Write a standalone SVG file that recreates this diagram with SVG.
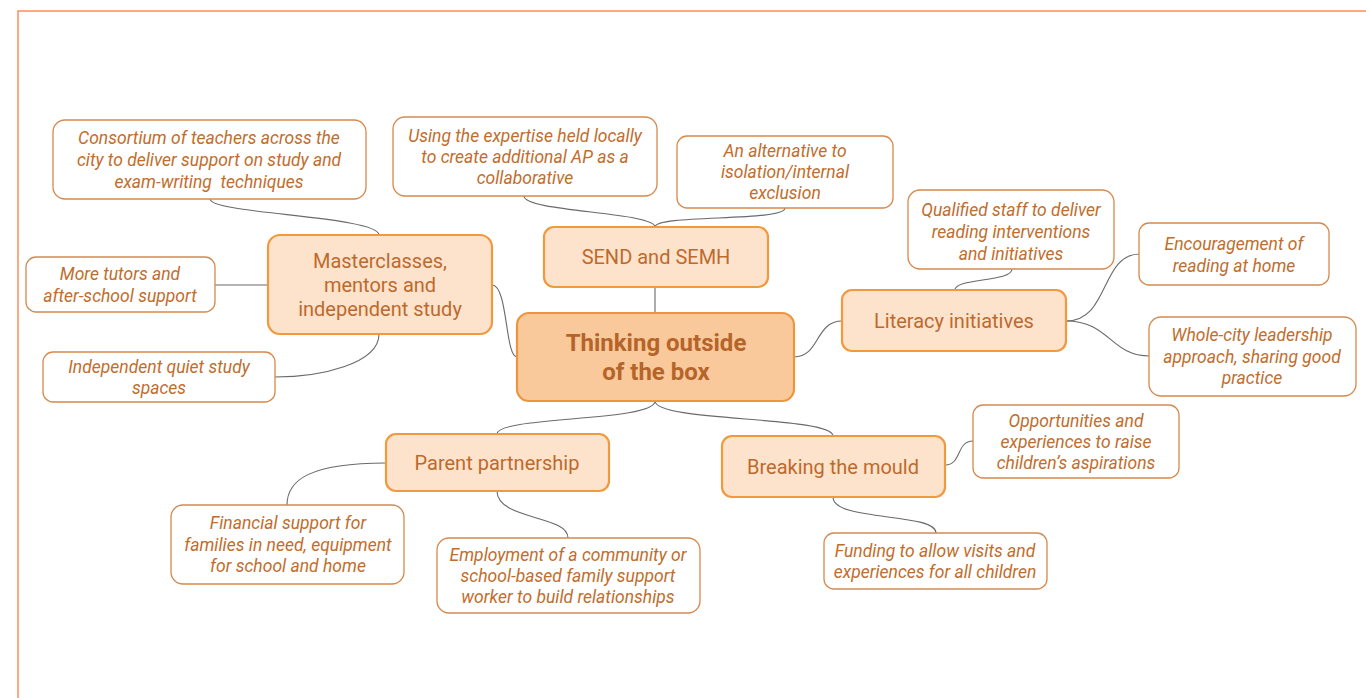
<svg xmlns="http://www.w3.org/2000/svg" width="1366" height="698" viewBox="0 0 1366 698">
<style>
.frame{fill:none;stroke:#ff8c5c;stroke-width:1.5}
.leaf rect{fill:#ffffff;stroke:#d8894c;stroke-width:1.3}
.leaf text{font-family:Roboto,"Open Sans",sans-serif;font-style:italic;font-size:17.5px;fill:#c26d2c;text-anchor:middle}
.branch rect{fill:#fde3cc;stroke:#f0993e;stroke-width:2.2}
.branch text{font-family:Roboto,"Open Sans",sans-serif;font-size:20px;fill:#bd6a2c;text-anchor:middle}
.core rect{fill:#f9c99b;stroke:#eb963a;stroke-width:2.2}
.core text{font-family:Roboto,"Open Sans",sans-serif;font-weight:bold;font-size:24px;fill:#b5642a;text-anchor:middle}
.conn path{fill:none;stroke:#6a6a6a;stroke-width:1.1}
</style>
<rect x="0" y="0" width="1366" height="698" fill="#ffffff"/>
<path class="frame" d="M18,698 V11 H1366"/>

<g class="conn" id="connectors">
<path d="M210,199 C210,214 379,216 379,235"/>
<path d="M215,285 H268"/>
<path d="M379,334 C379,364 320,377 275,377"/>
<path d="M492,285 C508,285 505,357 517,357"/>
<path d="M524,196 C524,212 655,212 655,227"/>
<path d="M785,208 C785,222 655,214 655,227"/>
<path d="M655,287 V313"/>
<path d="M794,357 C820,357 815,321 842,321"/>
<path d="M1012,269 C1012,282 955,278 955,290"/>
<path d="M1066,321 C1110,321 1100,254 1140,254"/>
<path d="M1066,321 C1110,321 1110,356 1150,356"/>
<path d="M655,401 C655,422 497,416 497,434"/>
<path d="M655,401 C655,422 833,416 833,436"/>
<path d="M386,463 C310,463 287,480 287,505"/>
<path d="M497,491 C497,520 568,515 568,538"/>
<path d="M945,465 C962,465 956,441 973,441"/>
<path d="M833,497 C833,522 936,512 936,533"/>
</g>

<g class="core" id="thinking-outside">
<rect x="517" y="313" width="277" height="88" rx="12"/>
<text x="656" y="351">Thinking outside</text>
<text x="656" y="380">of the box</text>
</g>

<g class="branch" id="masterclasses">
<rect x="268" y="235" width="224" height="99" rx="12"/>
<text x="380" y="268">Masterclasses,</text>
<text x="380" y="292">mentors and</text>
<text x="380" y="316">independent study</text>
</g>
<g class="branch" id="send">
<rect x="544" y="227" width="224" height="60" rx="10"/>
<text x="656" y="264">SEND and SEMH</text>
</g>
<g class="branch" id="literacy">
<rect x="842" y="290" width="224" height="61" rx="10"/>
<text x="954" y="328">Literacy initiatives</text>
</g>
<g class="branch" id="parent">
<rect x="386" y="434" width="223" height="57" rx="10"/>
<text x="497" y="470">Parent partnership</text>
</g>
<g class="branch" id="breaking">
<rect x="722" y="436" width="223" height="61" rx="10"/>
<text x="833" y="474">Breaking the mould</text>
</g>

<g class="leaf" id="consortium">
<rect x="53" y="120" width="313" height="79" rx="12"/>
<text x="209" y="144">Consortium of teachers across the</text>
<text x="209" y="166">city to deliver support on study and</text>
<text x="209" y="188" xml:space="preserve">exam-writing  techniques</text>
</g>
<g class="leaf" id="tutors">
<rect x="26" y="257" width="189" height="55" rx="10"/>
<text x="120" y="280">More tutors and</text>
<text x="120" y="302">after-school support</text>
</g>
<g class="leaf" id="quiet-study">
<rect x="43" y="352" width="232" height="50" rx="10"/>
<text x="159" y="373">Independent quiet study</text>
<text x="159" y="394">spaces</text>
</g>
<g class="leaf" id="expertise">
<rect x="393" y="117" width="264" height="79" rx="12"/>
<text x="525" y="142">Using the expertise held locally</text>
<text x="525" y="163">to create additional AP as a</text>
<text x="525" y="184">collaborative</text>
</g>
<g class="leaf" id="alternative">
<rect x="677" y="136" width="216" height="72" rx="10"/>
<text x="785" y="157">An alternative to</text>
<text x="785" y="178">isolation/internal</text>
<text x="785" y="199">exclusion</text>
</g>
<g class="leaf" id="qualified">
<rect x="908" y="190" width="206" height="79" rx="12"/>
<text x="1011" y="216">Qualified staff to deliver</text>
<text x="1011" y="238">reading interventions</text>
<text x="1011" y="260">and initiatives</text>
</g>
<g class="leaf" id="encouragement">
<rect x="1139" y="223" width="190" height="62" rx="10"/>
<text x="1234" y="250">Encouragement of</text>
<text x="1234" y="272">reading at home</text>
</g>
<g class="leaf" id="whole-city">
<rect x="1149" y="317" width="207" height="79" rx="12"/>
<text x="1252" y="341">Whole-city leadership</text>
<text x="1252" y="363">approach, sharing good</text>
<text x="1252" y="384">practice</text>
</g>
<g class="leaf" id="financial">
<rect x="171" y="505" width="233" height="79" rx="12"/>
<text x="288" y="529">Financial support for</text>
<text x="288" y="551">families in need, equipment</text>
<text x="288" y="572">for school and home</text>
</g>
<g class="leaf" id="employment">
<rect x="437" y="538" width="263" height="75" rx="12"/>
<text x="568" y="561">Employment of a community or</text>
<text x="568" y="582">school-based family support</text>
<text x="568" y="603">worker to build relationships</text>
</g>
<g class="leaf" id="opportunities">
<rect x="973" y="405" width="206" height="73" rx="10"/>
<text x="1076" y="427">Opportunities and</text>
<text x="1076" y="448">experiences to raise</text>
<text x="1076" y="469">children’s aspirations</text>
</g>
<g class="leaf" id="funding">
<rect x="824" y="533" width="223" height="56" rx="10"/>
<text x="935" y="557">Funding to allow visits and</text>
<text x="935" y="578">experiences for all children</text>
</g>
</svg>
